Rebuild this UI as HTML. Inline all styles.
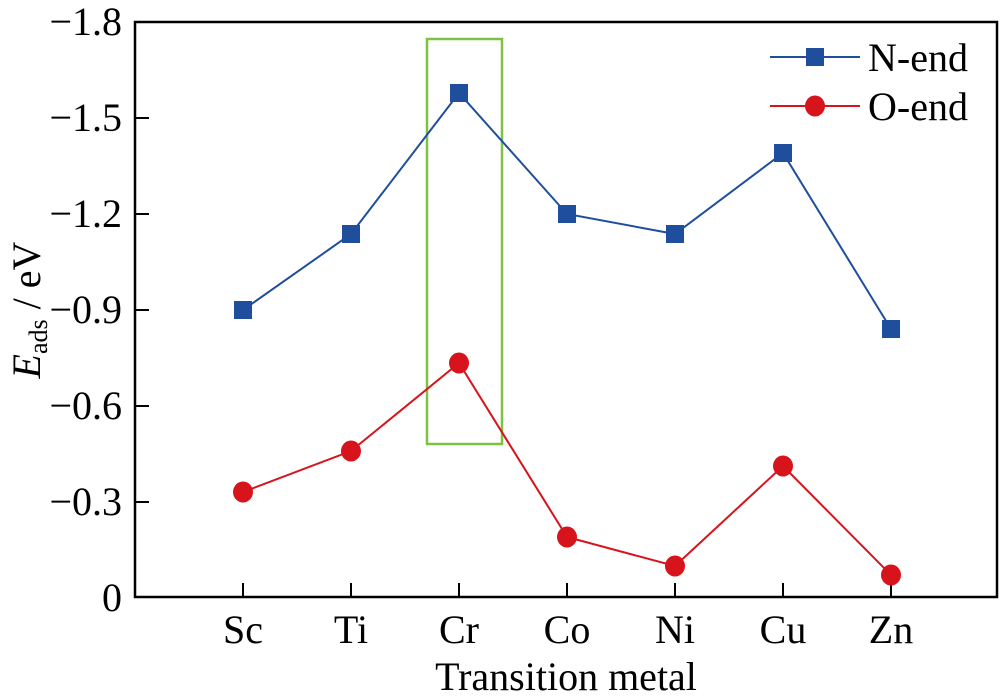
<!DOCTYPE html>
<html><head><style>body{margin:0;background:#fff}</style></head><body>
<svg width="1000" height="693" xmlns="http://www.w3.org/2000/svg" font-family="Liberation Serif, serif">
<rect x="0" y="0" width="1000" height="693" fill="#fff"/>
<rect x="135" y="22" width="862" height="575" fill="none" stroke="#000" stroke-width="2.5"/>
<g stroke="#000" stroke-width="2">
<line x1="135" y1="118" x2="149" y2="118"/><line x1="135" y1="214" x2="149" y2="214"/>
<line x1="135" y1="310" x2="149" y2="310"/><line x1="135" y1="406" x2="149" y2="406"/>
<line x1="135" y1="502" x2="149" y2="502"/>
<line x1="243" y1="597" x2="243" y2="583"/><line x1="351" y1="597" x2="351" y2="583"/>
<line x1="459" y1="597" x2="459" y2="583"/><line x1="567" y1="597" x2="567" y2="583"/>
<line x1="675" y1="597" x2="675" y2="583"/><line x1="783" y1="597" x2="783" y2="583"/>
<line x1="891" y1="597" x2="891" y2="583"/>
</g>
<g font-size="40" text-anchor="end">
<text x="122" y="35">−1.8</text><text x="122" y="131">−1.5</text><text x="122" y="227">−1.2</text>
<text x="122" y="323">−0.9</text><text x="122" y="419">−0.6</text><text x="122" y="515">−0.3</text>
<text x="122" y="611">0</text>
</g>
<g font-size="40" text-anchor="middle">
<text x="243" y="643">Sc</text><text x="351" y="643">Ti</text><text x="459" y="643">Cr</text>
<text x="567" y="643">Co</text><text x="675" y="643">Ni</text><text x="783" y="643">Cu</text>
<text x="891" y="643">Zn</text>
<text x="566" y="690">Transition metal</text>
</g>
<text transform="translate(40,310) rotate(-90)" font-size="40" text-anchor="middle"><tspan font-style="italic">E</tspan><tspan font-size="26" dy="7">ads</tspan><tspan dy="-7"> / eV</tspan></text>
<rect x="427" y="39" width="75" height="405" fill="none" stroke="#7dc242" stroke-width="2.5"/>
<polyline fill="none" stroke="#1f4e9c" stroke-width="2" points="243,310 351,234 459,93 567,214 675,234 783,153 891,329"/>
<g fill="#1f4e9c">
<rect x="234" y="301" width="18" height="18"/><rect x="342" y="225" width="18" height="18"/>
<rect x="450" y="84" width="18" height="18"/><rect x="558" y="205" width="18" height="18"/>
<rect x="666" y="225" width="18" height="18"/><rect x="774" y="144" width="18" height="18"/>
<rect x="882" y="320" width="18" height="18"/>
</g>
<polyline fill="none" stroke="#d7141c" stroke-width="2" points="243,492 351,451 459,363 567,537 675,566 783,466 891,575"/>
<g fill="#d7141c">
<ellipse cx="243" cy="492" rx="10" ry="10.5"/><ellipse cx="351" cy="451" rx="10" ry="10.5"/>
<ellipse cx="459" cy="363" rx="10" ry="10.5"/><ellipse cx="567" cy="537" rx="10" ry="10.5"/>
<ellipse cx="675" cy="566" rx="10" ry="10.5"/><ellipse cx="783" cy="466" rx="10" ry="10.5"/>
<ellipse cx="891" cy="575" rx="10" ry="10.5"/>
</g>
<line x1="770" y1="57" x2="860" y2="57" stroke="#1f4e9c" stroke-width="2"/>
<rect x="806" y="48" width="18" height="18" fill="#1f4e9c"/>
<line x1="770" y1="106" x2="860" y2="106" stroke="#d7141c" stroke-width="2"/>
<ellipse cx="815" cy="106" rx="10" ry="10.5" fill="#d7141c"/>
<text x="868" y="71" font-size="40">N-end</text>
<text x="868" y="120" font-size="40">O-end</text>
</svg>
</body></html>
